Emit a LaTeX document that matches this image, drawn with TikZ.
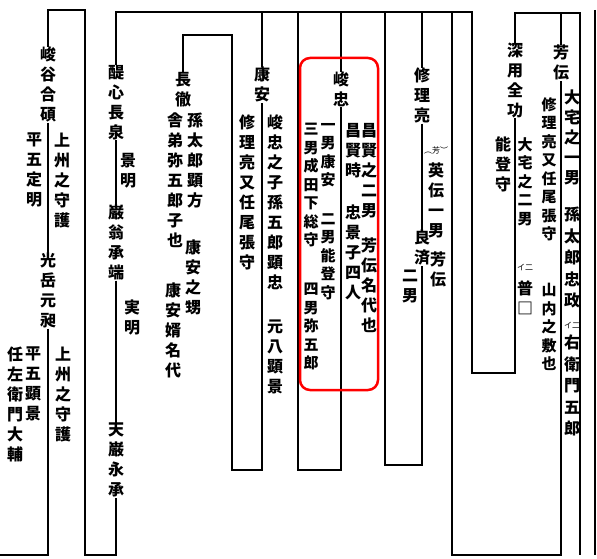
\documentclass[tikz,border=0pt]{standalone}
\usepackage{fontspec}
\newfontfamily\jp{Noto Sans CJK JP}
\begin{document}
\begin{tikzpicture}[x=1pt,y=-1pt,
  jt/.style={font={\jp\bfseries\fontsize{16}{20}\selectfont}, align=center, inner sep=0pt, anchor=north},
  jtn/.style={jt, font={\jp\bfseries\fontsize{15}{18.5}\selectfont}},
  jtw/.style={jt, font={\jp\bfseries\fontsize{16}{21.5}\selectfont}},
  sm/.style={font={\jp\fontsize{8}{9}\selectfont}, inner sep=0pt, anchor=north},
  ln/.style={line width=1.7pt, line join=miter}]
\fill[white] (0,0) rectangle (597,559);
\useasboundingbox (0,0) rectangle (597,559);

% ---- names ----
\node[jt] (n1) at (48,47) {峻\\谷\\合\\碩};
\node[jt] (n2) at (48,253) {光\\岳\\元\\昶};
\node[jt] (n3) at (116,65) {醍\\心\\長\\泉};
\node[jt] (n4) at (116,205) {巌\\翁\\承\\端};
\node[jt] (n5) at (116,423) {天\\巌\\永\\承};
\node[jt] (n6) at (183,72) {長\\徹};
\node[jt] (n7) at (262,67) {康\\安};
\node[jt] (n8) at (341,72) {峻\\忠};
\node[jt] (n9) at (422,68) {修\\理\\亮};
\node[jt] (n10) at (422,230) {良\\済};
\node[jt] (n11) at (515,43) {深\\用\\全\\功};
\node[jt] (n12) at (561,45) {芳\\伝};

% ---- annotations ----
\node[jt] (a1) at (34,133) {平\\五\\定\\明};
\node[jt] (a2) at (62,133) {上\\州\\之\\守\\護};
\node[jt] (a3) at (15,347) {任\\左\\衛\\門\\大\\輔};
\node[jt] (a4) at (33,347) {平\\五\\顕\\景};
\node[jt] (a5) at (63,347) {上\\州\\之\\守\\護};
\node[jt] (a6) at (128,153) {景\\明};
\node[jt] (a7) at (132,300) {実\\明};
\node[jt] (a8) at (195,113) {孫\\太\\郎\\顕\\方};
\node[jt] (a9) at (175,113) {舎\\弟\\弥\\五\\郎\\子\\也};
\node[jt] (a10) at (193,240) {康\\安\\之\\甥};
\node[jt] (a11) at (173,283) {康\\安\\婿\\名\\代};
\node[jt] (a12) at (247,115) {修\\理\\亮\\又\\任\\尾\\張\\守};
\node[jt] (a13) at (275,115) {峻\\忠\\之\\子\\孫\\五\\郎\\顕\\忠};
\node[jt] (a14) at (275,320) {元\\八\\顕\\景};
\node[jt] (a15) at (369,123) {昌\\賢\\之\\二\\男};
\node[jt] (a16) at (369,238) {芳\\伝\\名\\代\\也};
\node[jt] (a17) at (353,123) {昌\\賢\\時};
\node[jt] (a18) at (353,205) {忠\\景\\子\\四\\人};
\node[jtn] (a19) at (328,123) {一\\男\\康\\安};
\node[jtn] (a20) at (328,213) {二\\男\\能\\登\\守};
\node[jtn] (a21) at (311,123) {三\\男\\成\\田\\下\\総\\守};
\node[jtn] (a22) at (311,283) {四\\男\\弥\\五\\郎};
\node[sm] (a23) at (436,147) {︵\\[-3pt]芳\\[-3pt]︶};
\node[jt] (a24) at (436,163) {英\\伝\\一\\男};
\node[jt] (a25) at (438,252) {芳\\伝};
\node[jt] (a26) at (410,270) {二\\男};
\node[jt] (a27) at (503,137) {能\\登\\守};
\node[jtn] (a28) at (525,137) {大\\宅\\之\\二\\男};
\node[sm] (a29s) at (525,264) {イ二};
\node[jt] (a29) at (525,281) {普\\□};
\node[jtn] (a30) at (549,97) {修\\理\\亮\\又\\任\\尾\\張\\守};
\node[jtn] (a31) at (549,283) {山\\内\\之\\敷\\也};
\node[jt] (a32) at (572,90) {大\\宅\\之\\一\\男};
\node[jtw] (a33) at (572,207) {孫\\太\\郎\\忠\\政};
\node[sm] (a33s) at (572,322) {イ二};
\node[jtw] (a34) at (572,335) {右\\衛\\門\\五\\郎};

% ---- corner coordinates ----
\coordinate (tL) at (85,10);
\coordinate (bL) at (85,555);
\coordinate (bL2) at (116,555);
\coordinate (bA) at (48,555);
\coordinate (bA0) at (0,555);
\coordinate (t115) at (116,12);
\coordinate (t262) at (262,12);
\coordinate (t298) at (298,12);
\coordinate (t341) at (341,12);
\coordinate (t385) at (385,12);
\coordinate (t422) at (422,12);
\coordinate (t452) at (452,12);
\coordinate (t472) at (472,12);
\coordinate (b472) at (472,373);
\coordinate (b515) at (515,373);
\coordinate (b298) at (298,470);
\coordinate (b341) at (341,470);
\coordinate (b385) at (385,465);
\coordinate (b422) at (422,465);
\coordinate (b452) at (452,555);
\coordinate (b561) at (561,555);
\coordinate (t232) at (232,35);
\coordinate (b232) at (232,470);
\coordinate (b262) at (262,470);
\coordinate (t580) at (580,13);
\coordinate (b580) at (580,555);
\coordinate (t561) at (561,13);
\coordinate (r1) at (595,10);
\coordinate (r2) at (595,555);

% ---- connectors ----
\draw[ln] (n1.north) |- (tL) -- (bL) -- (bL2) -- (n5.south);
\draw[ln] (n1.south) -- (n2.north);
\draw[ln] (n2.south) -- (bA) -- (bA0);
\draw[ln] (n3.north) -- (t115) -- (t472) -- (b472) -- (b515) -- (n11.south);
\draw[ln] (n3.south) -- (n4.north);
\draw[ln] (n4.south) -- (n5.north);
\draw[ln] (t262) -- (n7.north);
\draw[ln] (t298) -- (b298) -- (b341) -- (n8.south);
\draw[ln] (t341) -- (n8.north);
\draw[ln] (t385) -- (b385) -- (b422) -- (n10.south);
\draw[ln] (t422) -- (n9.north);
\draw[ln] (n9.south) -- (n10.north);
\draw[ln] (t452) -- (b452) -- (b561) -- (n12.south);
\draw[ln] (n6.north) |- (t232) -- (b232) -- (b262) -- (n7.south);
\draw[ln] (n11.north) |- (t580) -- (b580);
\draw[ln] (t561) -- (n12.north);
\draw[ln] (r1) -- (r2);

% ---- highlight ----
\draw[red, line width=2.5pt, rounded corners=10pt] (300,58) rectangle (378,390);
\end{tikzpicture}
\end{document}
